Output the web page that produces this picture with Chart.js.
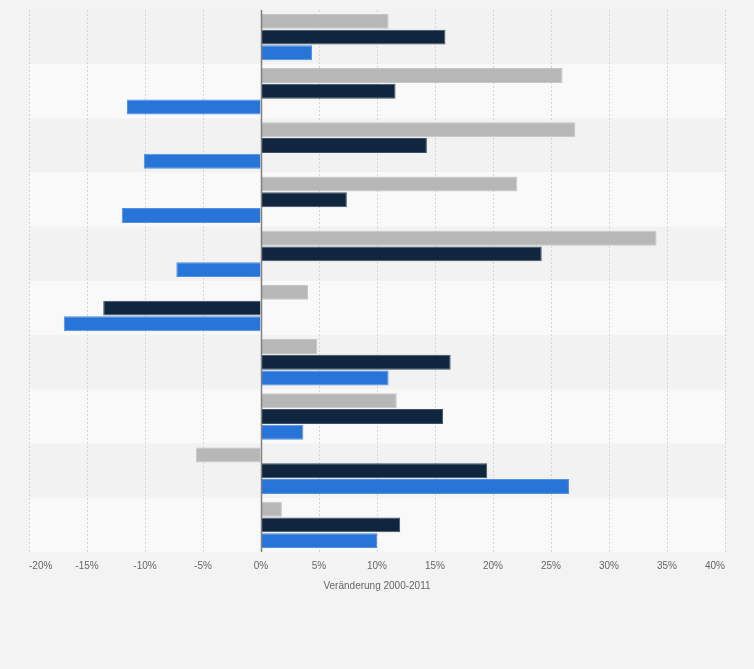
<!DOCTYPE html>
<html>
<head>
<meta charset="utf-8">
<script src="https://cdn.jsdelivr.net/npm/chart.js@4.4.0/dist/chart.umd.min.js"></script>
<style>
  html, body { margin: 0; padding: 0; background: #f3f3f3; }
  #wrap { width: 754px; height: 669px; position: relative; }
</style>
</head>
<body>
<div id="wrap"><canvas id="c"></canvas></div>
<script>
const categories = ['1', '2', '3', '4', '5', '6', '7', '8', '9', '10'];
const seriesGray = [11.0, 26.0, 27.1, 22.1, 34.1, 4.05, 4.85, 11.7, -5.6, 1.8];
const seriesNavy = [15.9, 11.6, 14.3, 7.4, 24.2, -13.6, 16.35, 15.7, 19.5, 12.0];
const seriesBlue = [4.4, -11.55, -10.1, -12.0, -7.3, -17.0, 11.0, 3.65, 26.55, 10.0];
const xMin = -20, xMax = 40, xStep = 5;
const axisTitle = 'Veränderung 2000-2011';

const bgPlugin = {
  id: 'bands',
  beforeDraw(chart) {
    const { ctx, chartArea: a, scales } = chart;
    ctx.save();
    ctx.fillStyle = '#f3f3f3';
    ctx.fillRect(0, 0, chart.width, chart.height);
    const y = scales.y;
    const h = (a.bottom - a.top) / categories.length;
    categories.forEach((c, i) => {
      const cy = y.getPixelForValue(i);
      ctx.fillStyle = i % 2 === 0 ? '#f2f2f2' : '#f9f9f9';
      ctx.fillRect(a.left, cy - h / 2, a.right - a.left, h);
    });
    ctx.restore();
  },
  afterDatasetsDraw(chart) {
    const { ctx, chartArea: a, scales } = chart;
    const x0 = Math.round(scales.x.getPixelForValue(0)) + 0.5;
    ctx.save();
    ctx.strokeStyle = '#808080';
    ctx.lineWidth = 1.5;
    ctx.beginPath();
    ctx.moveTo(x0, a.top);
    ctx.lineTo(x0, a.bottom);
    ctx.stroke();
    ctx.restore();
  }
};

Chart.defaults.font.family = '"Liberation Sans", Arial, Helvetica, sans-serif';

new Chart(document.getElementById('c'), {
  type: 'bar',
  data: {
    labels: categories,
    datasets: [
      { label: 'Reihe 1', data: seriesGray, backgroundColor: '#b7b7b7', borderColor: '#c6c6c6', borderWidth: 1 },
      { label: 'Reihe 2', data: seriesNavy, backgroundColor: '#10263f', borderColor: '#3d5068', borderWidth: 1 },
      { label: 'Reihe 3', data: seriesBlue, backgroundColor: '#2775d9', borderColor: '#5590e2', borderWidth: 1 }
    ]
  },
  options: {
    indexAxis: 'y',
    responsive: true,
    maintainAspectRatio: false,
    animation: false,
    categoryPercentage: 0.87,
    barPercentage: 0.95,
    layout: { padding: { left: 29, right: 29, top: 10, bottom: 77 } },
    plugins: { legend: { display: false }, tooltip: { enabled: false } },
    scales: {
      x: {
        min: xMin, max: xMax,
        ticks: {
          stepSize: xStep,
          align: 'inner',
          padding: 8,
          color: '#666666',
          font: { size: 10 },
          callback: v => v + '%'
        },
        grid: {
          color: '#d4d4d4',
          drawTicks: false,
          lineWidth: 1
        },
        border: { display: false, dash: [2, 2] },
        title: {
          display: true,
          text: axisTitle,
          color: '#666666',
          font: { size: 10 },
          padding: { top: 0, bottom: 0 }
        }
      },
      y: {
        display: false
      }
    }
  },
  plugins: [bgPlugin]
});
</script>
</body>
</html>
